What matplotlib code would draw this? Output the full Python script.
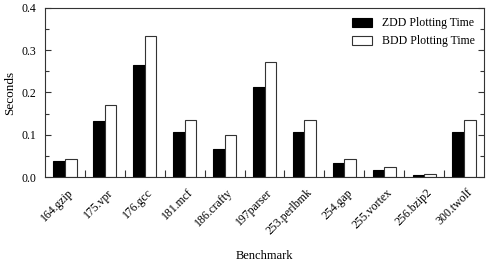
import numpy as np
import matplotlib.pyplot as plt
from matplotlib.ticker import MultipleLocator

benchmarks = ["164.gzip", "175.vpr", "176.gcc", "181.mcf", "186.crafty", "197parser",
              "253.perlbmk", "254.gap", "255.vortex", "256.bzip2", "300.twolf"]
zdd_time = [0.037, 0.133, 0.265, 0.107, 0.066, 0.212, 0.107, 0.033, 0.017, 0.005, 0.107]
bdd_time = [0.043, 0.170, 0.334, 0.135, 0.099, 0.273, 0.135, 0.042, 0.024, 0.008, 0.135]

plt.rcParams["font.family"] = ["Liberation Serif", "DejaVu Serif"]

fig = plt.figure(figsize=(4.92, 2.66), dpi=100)
ax = fig.add_axes([45 / 492, 1 - 177 / 266, 439 / 492, 169 / 266])

x = np.arange(len(benchmarks))
w = 0.29
edge = "#333333"
ax.bar(x - w / 2, zdd_time, w, color="black", edgecolor="black", linewidth=0.8,
       label="ZDD Plotting Time")
ax.bar(x + w / 2, bdd_time, w, color="white", edgecolor=edge, linewidth=0.8,
       label="BDD Plotting Time")

ax.set_xlim(-0.5, len(benchmarks) - 0.5)
ax.set_ylim(0, 0.4)
ax.yaxis.set_major_locator(MultipleLocator(0.1))
ax.yaxis.set_minor_locator(MultipleLocator(0.05))
ax.yaxis.set_major_formatter(plt.FormatStrFormatter("%.1f"))
ax.tick_params(axis="y", which="both", direction="in", left=True, right=True,
               labelsize=8.5, color=edge, width=0.8)
ax.tick_params(axis="y", which="major", length=4, pad=6)
ax.tick_params(axis="y", which="minor", length=3)

# group labels at centres, boundary ticks between groups
ax.set_xticks(x + 0.05)
ax.set_xticklabels(benchmarks, rotation=45, ha="right", rotation_mode="anchor", fontsize=8.5)
ax.tick_params(axis="x", which="major", length=0, pad=7)
ax.set_xticks(np.arange(0.5, len(benchmarks) - 1, 1), minor=True)
ax.tick_params(axis="x", which="minor", direction="in", length=5, color=edge, width=0.8)

for s in ax.spines.values():
    s.set_color(edge)
    s.set_linewidth(0.8)

ax.set_ylabel("Seconds", fontsize=9.5, labelpad=4)
ax.set_xlabel("Benchmark", fontsize=9, labelpad=9)
ax.legend(loc="upper right", frameon=False, fontsize=8.5, handlelength=1.7,
          handleheight=0.8, labelspacing=0.5, handletextpad=0.8, borderaxespad=0.4)

fig.savefig("out.png", dpi=100)
